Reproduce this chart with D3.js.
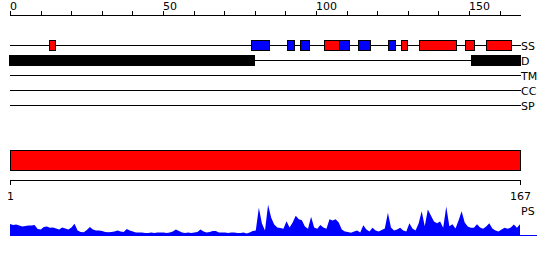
<!DOCTYPE html>
<meta charset="utf-8">
<style>
  body { margin: 0; background: #fff; }
  svg { display: block; }
  text { font: 11px "DejaVu Sans", sans-serif; fill: #000; }
  .axis line, .axis path { stroke: #000; shape-rendering: crispEdges; }
</style>
<body>
<script src="https://cdnjs.cloudflare.com/ajax/libs/d3/7.8.5/d3.min.js"></script>
<script>
var seqLength = 167;
var trackNames = ["SS", "D", "TM", "CC", "SP"];
var tickValues = [0, 10, 20, 30, 40, 50, 60, 70, 80, 90, 100, 110, 120, 130, 140, 150, 160];
var tickLabels = [0, 50, 100, 150];

// secondary structure segments [start, end]
var helices = [[13, 15], [103, 108], [128, 130], [134, 146], [149, 152], [156, 164]];
var strands = [[79, 85], [91, 93], [95, 98], [108, 111], [114, 118], [124, 126]];
var disorder = [[0, 80], [151, 167]];

// per residue PS score, residues 1..167
var psScores = [
  11.4, 10.5, 11, 10, 9, 9.5, 10, 10, 10.5, 6.5,
  6, 8.5, 9, 7.7, 8, 7, 6, 8, 7, 6,
  8, 11.7, 5, 3.5, 3.3, 5.5, 8.5, 6, 5, 5,
  4.5, 3.5, 3.3, 3.5, 4, 5, 4, 3.5, 6.5, 5,
  4, 3, 3, 3, 2.5, 2.5, 3, 2.5, 3, 3,
  3, 2.5, 3, 4, 6, 4.5, 3, 2.5, 3, 2.5,
  3, 3.5, 6, 4, 3, 3.5, 4.5, 4.5, 3, 3,
  3, 2.5, 3, 3, 2.5, 2.5, 3, 2, 3, 4.5,
  5, 27.7, 12, 5, 30.7, 18, 11, 8, 7.5, 6.7,
  14.3, 8, 13, 19.7, 16.3, 15.3, 9, 6.7, 18.7, 8,
  6.7, 10.4, 8, 6.7, 16.3, 15, 16.3, 13, 6, 4,
  3.5, 2.7, 4, 5, 3, 10.3, 6, 4, 7.7, 5,
  4, 5.5, 7, 22.7, 8, 5, 6, 7.7, 5, 4,
  12.3, 7, 5, 12, 24.3, 9.3, 26, 20, 14, 12.3,
  14, 7.7, 29, 9.3, 11.3, 7, 15, 24.3, 13, 9,
  7.7, 7.7, 11.3, 8, 6.7, 9, 12.3, 7, 5, 4,
  6, 7.7, 6.7, 8, 11, 7.7, 11.3
];

var width = 550, height = 260;
var svg = d3.select("body").append("svg")
  .attr("width", width)
  .attr("height", height);

var x = d3.scaleLinear().domain([0, seqLength]).range([10, 521]);
var y = d3.scalePoint().domain(trackNames).range([45, 105]);

// top ruler
var ruler = svg.append("g").attr("class", "axis");
ruler.append("line")
  .attr("x1", x(0)).attr("x2", x(seqLength))
  .attr("y1", 15.5).attr("y2", 15.5);
ruler.selectAll(".tk").data(tickValues).enter().append("line")
  .attr("x1", d => Math.round(x(d)) + 0.5).attr("x2", d => Math.round(x(d)) + 0.5)
  .attr("y1", 11).attr("y2", 15);
ruler.selectAll("text").data(tickLabels).enter().append("text")
  .attr("x", d => x(d)).attr("y", 10)
  .text(d => d);

// tracks
var tr = svg.append("g");
tr.selectAll("line").data(trackNames).enter().append("line")
  .attr("x1", x(0)).attr("x2", x(seqLength))
  .attr("y1", d => y(d) + 0.5).attr("y2", d => y(d) + 0.5)
  .attr("stroke", "#000");
tr.selectAll("text").data(trackNames).enter().append("text")
  .attr("x", x(seqLength)).attr("y", d => y(d) + 4.5)
  .text(d => d);

function segs(data, track, fill) {
  svg.append("g").selectAll("rect").data(data).enter().append("rect")
    .attr("x", d => Math.round(x(d[0])) - 0.5)
    .attr("width", d => Math.round(x(d[1])) - Math.round(x(d[0])))
    .attr("y", y(track) - 4.5)
    .attr("height", 10)
    .attr("fill", fill)
    .attr("stroke", "#000");
}
segs(helices, "SS", "#ff0000");
segs(strands, "SS", "#0000ff");
segs(disorder, "D", "#000");

// full-length bar
var xr = d3.scaleLinear().domain([1, seqLength]).range([10, 520]);
svg.append("rect")
  .attr("x", xr(1) + 0.5).attr("y", 150.5)
  .attr("width", xr(seqLength) - xr(1)).attr("height", 20)
  .attr("fill", "#ff0000").attr("stroke", "#000");

var bot = svg.append("g").attr("class", "axis");
bot.append("line")
  .attr("x1", xr(1)).attr("x2", xr(seqLength) + 1)
  .attr("y1", 180.5).attr("y2", 180.5);
bot.selectAll(".tk").data([1, seqLength]).enter().append("line")
  .attr("x1", d => xr(d) + 0.5).attr("x2", d => xr(d) + 0.5)
  .attr("y1", 180).attr("y2", 185);
bot.selectAll("text").data([1, seqLength]).enter().append("text")
  .attr("x", d => xr(d) + 0.5).attr("y", 200)
  .attr("text-anchor", "middle")
  .text(d => d);

// PS profile
var yp = d3.scaleLinear().domain([0, 40]).range([235.5, 195.5]);
var area = d3.area()
  .x((d, i) => xr(i + 1))
  .y0(yp(0))
  .y1(d => yp(d));
svg.append("path")
  .datum(psScores)
  .attr("d", area)
  .attr("fill", "#0000ff");
svg.append("line")
  .attr("x1", xr(1)).attr("x2", 537)
  .attr("y1", 235.5).attr("y2", 235.5)
  .attr("stroke", "#0000ff");
svg.append("text")
  .attr("x", xr(seqLength) + 1).attr("y", 215)
  .text("PS");
</script>
</body>
